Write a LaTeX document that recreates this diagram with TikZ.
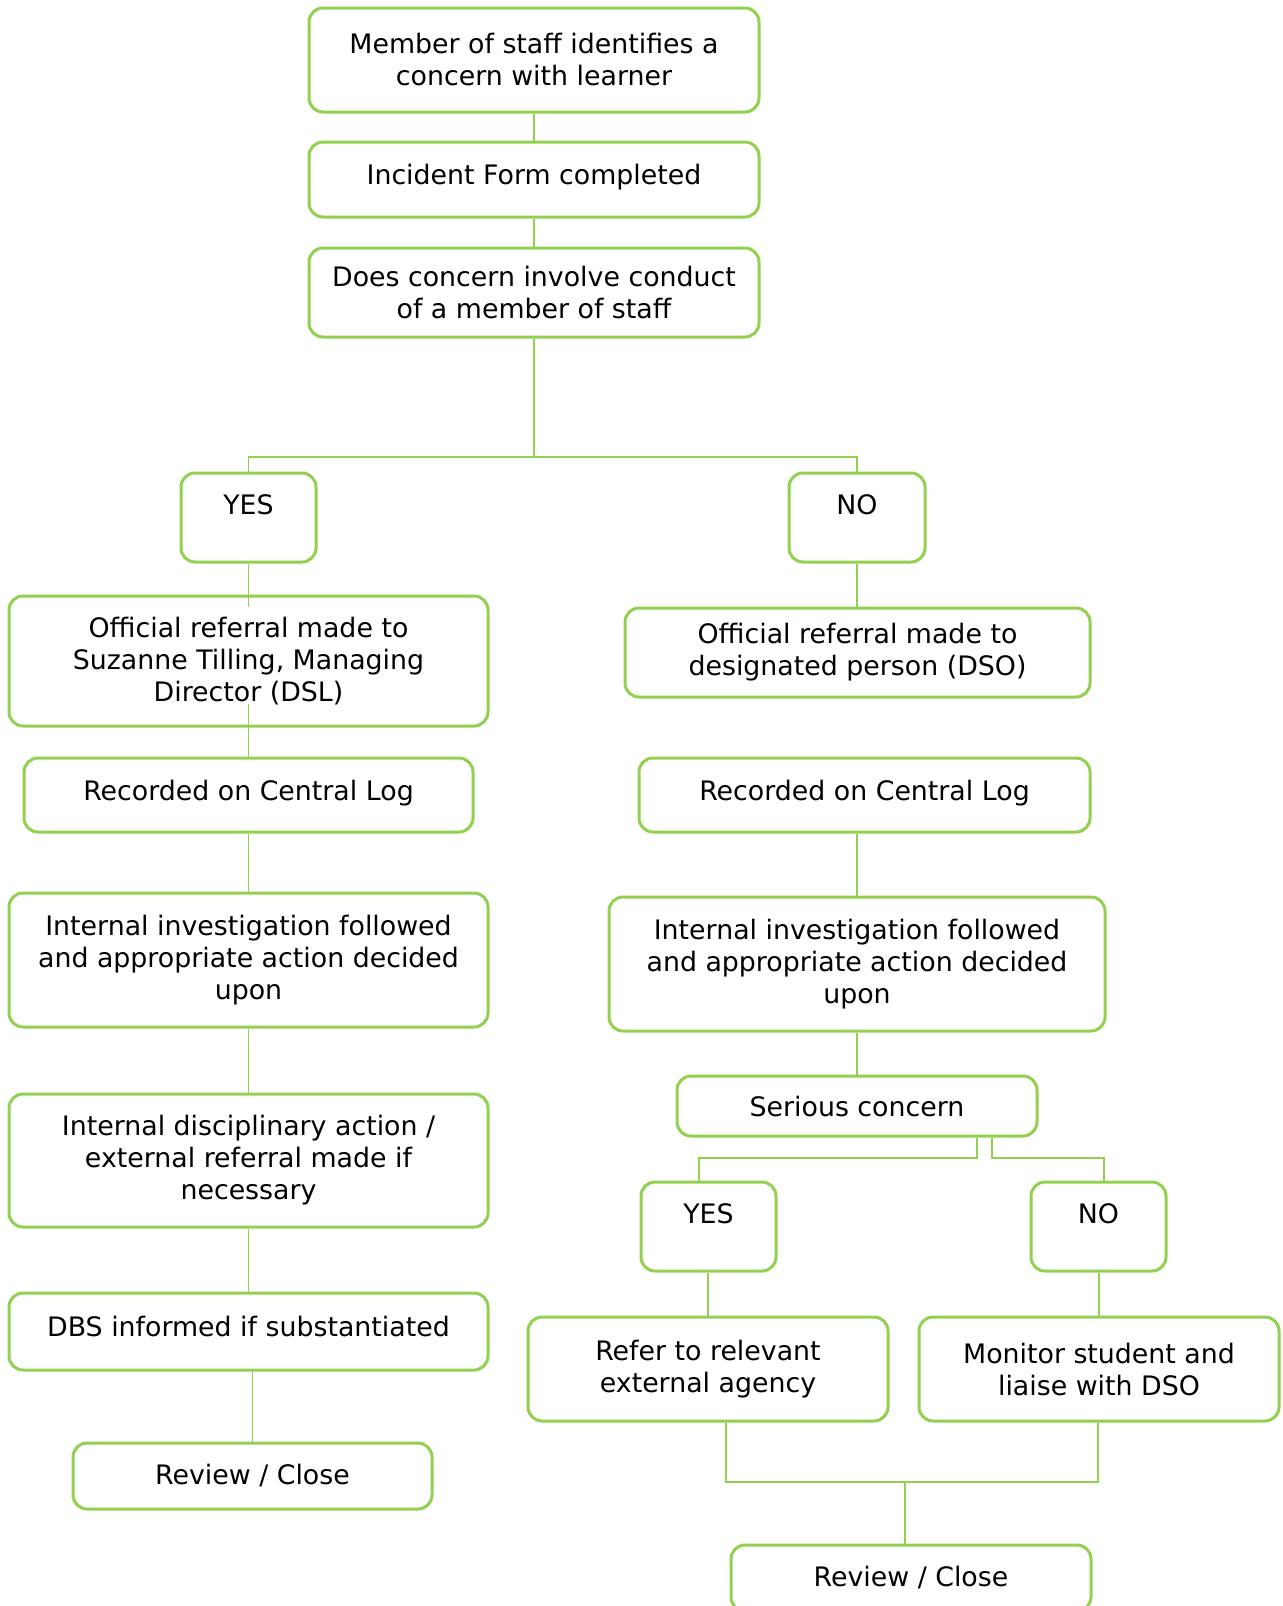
\documentclass[tikz,border=0pt]{standalone}
\usepackage{fontspec}
\setmainfont{DejaVu Sans}
\definecolor{boxgreen}{HTML}{92D050}
\tikzstyle{flowbox} = [draw=boxgreen, fill=white, line width=1.5pt,
    rectangle, rounded corners=7pt, align=center, inner sep=2pt,
    font=\fontsize{13.4}{16}\selectfont]
\tikzstyle{oneline} = [flowbox, text depth=5pt]
\tikzstyle{answer} = [flowbox, text depth=13pt]
\tikzstyle{flowline} = [draw=boxgreen, line width=0.75pt]

\begin{document}
\begin{tikzpicture}[x=0.5pt, y=-0.5pt]
    \useasboundingbox (0,0) rectangle (1282,1606);
    % top of the chart
    \node[flowbox, minimum width=225pt, minimum height=52pt] (member) at (534,60) {Member of staff identifies a\\concern with learner};
    \node[oneline, minimum width=225pt, minimum height=37.5pt] (incident) at (534,179.5) {Incident Form completed};
    \node[flowbox, minimum width=225pt, minimum height=44.5pt] (conduct) at (534,292.5) {Does concern involve conduct\\of a member of staff};
    \node[answer, minimum width=67.5pt, minimum height=44.5pt] (yes) at (248.5,517.5) {YES};
    \node[answer, minimum width=68pt, minimum height=44.5pt] (no) at (857,517.5) {NO};
    % YES branch
    \node[flowbox, minimum width=239.5pt, minimum height=65pt] (dsl) at (248.5,661) {Official referral made to\\Suzanne Tilling, Managing\\Director (DSL)};
    \node[oneline, minimum width=224.5pt, minimum height=37pt] (logl) at (248.5,795) {Recorded on Central Log};
    \node[flowbox, minimum width=239.5pt, minimum height=67pt] (invl) at (248.5,960) {Internal investigation followed\\and appropriate action decided\\upon};
    \node[flowbox, minimum width=239.5pt, minimum height=66.5pt] (disc) at (248.5,1160.5) {Internal disciplinary action /\\external referral made if\\necessary};
    \node[oneline, minimum width=239.5pt, minimum height=38.5pt] (dbs) at (248.5,1331.5) {DBS informed if substantiated};
    \node[flowbox, minimum width=179.5pt, minimum height=33pt] (revl) at (252.5,1476) {Review / Close};
    % NO branch
    \node[flowbox, minimum width=232.5pt, minimum height=44.5pt] (dso) at (857.5,652.5) {Official referral made to\\designated person (DSO)};
    \node[oneline, minimum width=225.5pt, minimum height=37pt] (logr) at (864.5,795) {Recorded on Central Log};
    \node[flowbox, minimum width=248pt, minimum height=67pt] (invr) at (857,964) {Internal investigation followed\\and appropriate action decided\\upon};
    \node[flowbox, minimum width=180pt, minimum height=30pt] (serious) at (857,1106) {Serious concern};
    \node[answer, minimum width=67.5pt, minimum height=44.5pt] (yes2) at (708.5,1226.5) {YES};
    \node[answer, minimum width=67.5pt, minimum height=44.5pt] (no2) at (1098.5,1226.5) {NO};
    \node[flowbox, minimum width=180pt, minimum height=52pt] (refer) at (708,1369) {Refer to relevant\\external agency};
    \node[flowbox, minimum width=180pt, minimum height=52pt] (monitor) at (1099,1369) {Monitor student and\\liaise with DSO};
    \node[flowbox, minimum width=180pt, minimum height=33pt] (revr) at (911,1578) {Review / Close};

    % connectors
    \coordinate (split) at (534,457);
    \draw[flowline] (member) -- (incident);
    \draw[flowline] (incident) -- (conduct);
    \draw[flowline] (conduct.south) -- (split);
    \draw[flowline] (split) -| (yes.north);
    \draw[flowline] (split) -| (no.north);

    \draw[flowline] (yes.south) -- ([yshift=-6pt]dsl.north);
    \draw[flowline] ([yshift=12pt]dsl.south) -- (logl.north);
    \draw[flowline] (logl) -- (invl);
    \draw[flowline] (invl) -- (disc);
    \draw[flowline] (disc) -- (dbs);
    \draw[flowline] (dbs.south -| revl.north) -- (revl.north);

    \draw[flowline] (no.south) -- (no.south |- dso.north);
    \draw[flowline] (dso.south -| no.south) -- (dso.south -| no.south |- logr.north);
    \draw[flowline] (logr.south -| no.south) -- (no.south |- invr.north);
    \draw[flowline] (invr.south) -- (serious.north);

    \coordinate (sy) at (977,1158);
    \coordinate (sn) at (992,1158);
    \coordinate (sy2) at (699,1158);
    \coordinate (sn2) at (1104,1158);
    \draw[flowline] (serious.south -| sy) -- (sy) -- (sy2) -- (sy2 |- yes2.north);
    \draw[flowline] (serious.south -| sn) -- (sn) -- (sn2) -- (sn2 |- no2.north);
    \draw[flowline] (yes2.south -| refer.north) -- (refer.north);
    \draw[flowline] (no2.south -| monitor.north) -- (monitor.north);

    \coordinate (mleft) at (726,1482);
    \coordinate (mright) at (1098,1482);
    \coordinate (mmid) at (905,1482);
    \draw[flowline] (refer.south -| mleft) -- (mleft) -- (mright) -- (mright |- monitor.south);
    \draw[flowline] (mmid) -- (mmid |- revr.north);
\end{tikzpicture}
\end{document}
